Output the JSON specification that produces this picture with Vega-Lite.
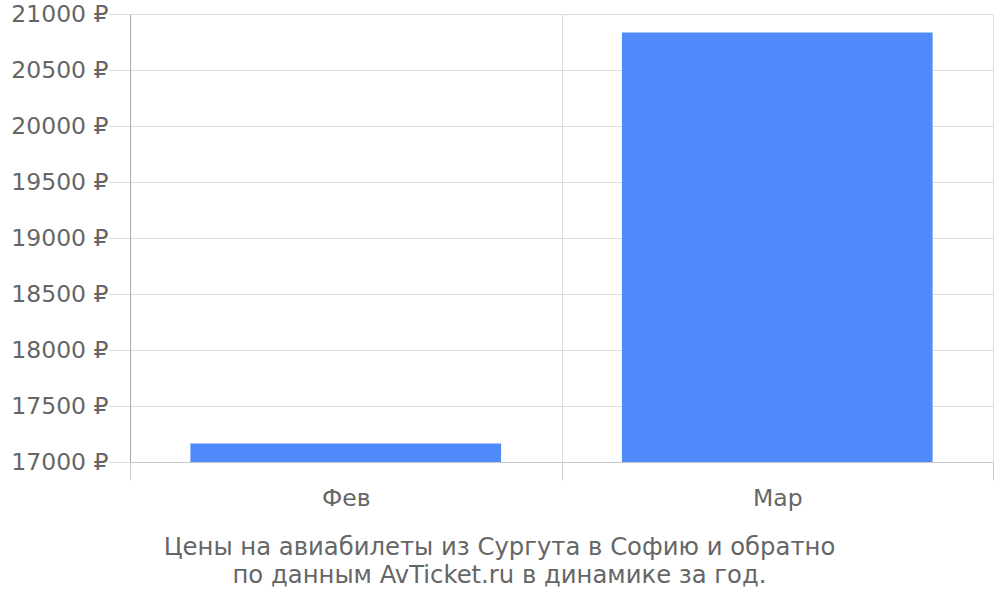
{
  "$schema": "https://vega.github.io/schema/vega-lite/v6.json",
  "width": 863,
  "height": 448,
  "autosize": {"type": "none"},
  "padding": {"left": 130, "top": 14, "right": 7, "bottom": 138},
  "background": "white",
  "config": {
    "view": {"stroke": null},
    "font": "DejaVu Sans"
  },
  "title": {
    "text": ["Цены на авиабилеты из Сургута в Софию и обратно", "по данным AvTicket.ru в динамике за год."],
    "orient": "bottom",
    "anchor": "middle",
    "font": "DejaVu Sans",
    "fontSize": 24.3,
    "fontWeight": "normal",
    "color": "#666666",
    "offset": 26,
    "lineHeight": 28,
    "dx": -62
  },
  "data": {
    "values": [
      {"month": "Фев", "price": 17165},
      {"month": "Мар", "price": 20835}
    ]
  },
  "mark": {"type": "bar", "color": "#4e8af9", "width": {"band": 0.72}},
  "encoding": {
    "x": {
      "field": "month",
      "type": "nominal",
      "sort": null,
      "scale": {"paddingInner": 0, "paddingOuter": 0},
      "axis": {
        "title": null,
        "labelAngle": 0,
        "labelFontSize": 23.5,
        "labelColor": "#666666",
        "labelFont": "DejaVu Sans",
        "labelPadding": 6,
        "grid": true,
        "gridColor": "#dddddd",
        "tickBand": "extent",
        "ticks": true,
        "tickSize": 18,
        "tickColor": "#cccccc",
        "domainColor": "#c8c8c8"
      }
    },
    "y": {
      "field": "price",
      "type": "quantitative",
      "scale": {"domain": [17000, 21000], "nice": false, "zero": false},
      "axis": {
        "title": null,
        "values": [17000, 17500, 18000, 18500, 19000, 19500, 20000, 20500, 21000],
        "labelExpr": "format(datum.value, 'd') + ' ₽'",
        "labelFontSize": 23.5,
        "labelColor": "#666666",
        "labelFont": "DejaVu Sans",
        "labelPadding": 0,
        "tickSize": 22,
        "tickColor": "#e0e0e0",
        "grid": true,
        "gridColor": "#dddddd",
        "domainColor": "#aaaaaa"
      }
    },
    "y2": {"datum": 17000}
  }
}
